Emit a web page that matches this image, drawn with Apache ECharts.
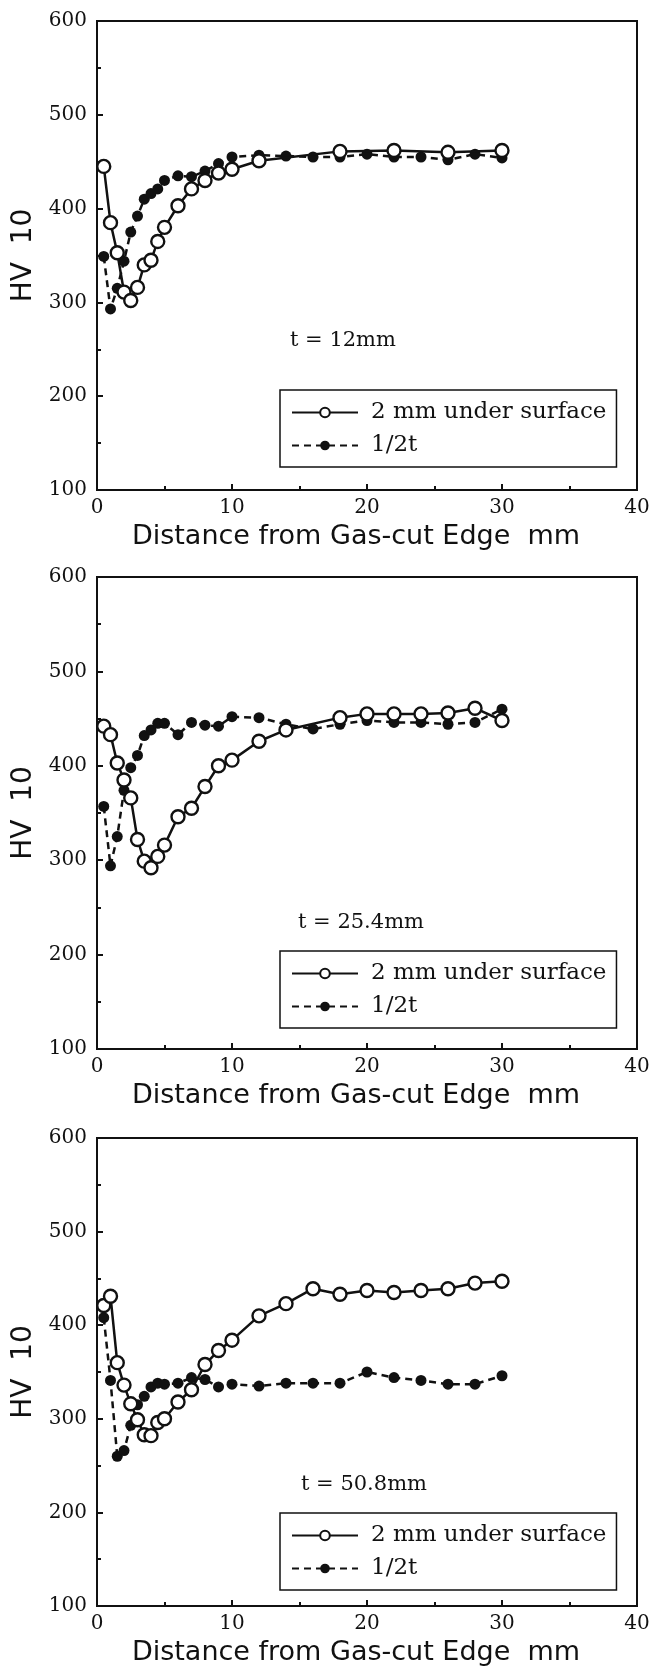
<!DOCTYPE html>
<html>
<head>
<meta charset="utf-8">
<script src="https://cdn.jsdelivr.net/npm/echarts@6/dist/echarts.min.js"></script>
<style>
  body { margin: 0; background: #fff; }
  #main { width: 657px; height: 1673px; }
</style>
</head>
<body>
<div id="main"></div>
<script>
// HV10 hardness vs distance from gas-cut edge, three plate thicknesses
var panelTitles = ['t = 12mm', 't = 25.4mm', 't = 50.8mm'];
var seriesNames = ['2 mm under surface', '1/2t'];
var xTicks = [0, 10, 20, 30, 40];
var yTicks = [100, 200, 300, 400, 500, 600];

// t = 12 mm
var xOpen1 = [0.5, 1, 1.5, 2, 2.5, 3, 3.5, 4, 4.5, 5, 6, 7, 8, 9, 10, 12, 18, 22, 26, 30];
var open1  = [445, 385, 353, 311, 302, 316, 340, 345, 365, 380, 403, 421, 430, 438, 442, 451, 461, 462, 460, 462];
var xFill1 = [0.5, 1, 1.5, 2, 2.5, 3, 3.5, 4, 4.5, 5, 6, 7, 8, 9, 10, 12, 14, 16, 18, 20, 22, 24, 26, 28, 30];
var fill1  = [349, 293, 315, 344, 375, 392, 410, 416, 421, 430, 435, 434, 440, 448, 455, 457, 456, 455, 455, 458, 455, 455, 452, 458, 454];

// t = 25.4 mm
var xOpen2 = [0.5, 1, 1.5, 2, 2.5, 3, 3.5, 4, 4.5, 5, 6, 7, 8, 9, 10, 12, 14, 18, 20, 22, 24, 26, 28, 30];
var open2  = [442, 433, 403, 385, 366, 322, 299, 292, 304, 316, 346, 355, 378, 400, 406, 426, 438, 451, 455, 455, 455, 456, 461, 448];
var xFill2 = [0.5, 1, 1.5, 2, 2.5, 3, 3.5, 4, 4.5, 5, 6, 7, 8, 9, 10, 12, 14, 16, 18, 20, 22, 24, 26, 28, 30];
var fill2  = [357, 294, 325, 374, 398, 411, 432, 438, 445, 445, 433, 446, 443, 442, 452, 451, 444, 439, 444, 448, 446, 446, 444, 446, 460];

// t = 50.8 mm
var xOpen3 = [0.5, 1, 1.5, 2, 2.5, 3, 3.5, 4, 4.5, 5, 6, 7, 8, 9, 10, 12, 14, 16, 18, 20, 22, 24, 26, 28, 30];
var open3  = [421, 431, 360, 336, 316, 299, 283, 282, 296, 300, 318, 331, 358, 373, 384, 410, 423, 439, 433, 437, 435, 437, 439, 445, 447];
var xFill3 = [0.5, 1, 1.5, 2, 2.5, 3, 3.5, 4, 4.5, 5, 6, 7, 8, 9, 10, 12, 14, 16, 18, 20, 22, 24, 26, 28, 30];
var fill3  = [408, 341, 260, 266, 293, 315, 324, 334, 338, 337, 338, 344, 342, 334, 337, 335, 338, 338, 338, 350, 344, 341, 337, 337, 346];

var panels = [
  { xo: xOpen1, yo: open1, xf: xFill1, yf: fill1 },
  { xo: xOpen2, yo: open2, xf: xFill2, yf: fill2 },
  { xo: xOpen3, yo: open3, xf: xFill3, yf: fill3 }
];

function pairs(xs, ys) {
  return xs.map(function (x, i) { return [x, ys[i]]; });
}

var gridTop = [21, 577, 1138];
var gridHeight = [469, 472, 468];
var legendTop = [390, 951, 1513];
var titlePos = [[290, 330], [298, 912], [301, 1474]];

var serif = 'DejaVu Serif';
var sans = 'DejaVu Sans';
var ink = '#111';

var myChart = echarts.init(document.getElementById('main'));

var grids = [], xAxes = [], yAxes = [], series = [], legends = [], titles = [];

panels.forEach(function (p, i) {
  grids.push({
    left: 97, right: 20, top: gridTop[i], height: gridHeight[i],
    show: true, borderColor: ink, borderWidth: 2, backgroundColor: 'transparent'
  });
  xAxes.push({
    gridIndex: i, type: 'value',
    min: xTicks[0], max: xTicks[xTicks.length - 1], interval: xTicks[1] - xTicks[0],
    name: 'Distance from Gas-cut Edge  mm',
    nameLocation: 'middle', nameGap: 33,
    nameTextStyle: { fontFamily: sans, fontSize: 27, color: ink, padding: [0, 22, 0, 0] },
    axisLine: { onZero: false, lineStyle: { color: ink, width: 2 } },
    axisTick: { inside: true, length: 6, lineStyle: { color: ink, width: 2 } },
    minorTick: { show: true, splitNumber: 2, length: 4, lineStyle: { color: ink, width: 2 } },
    splitLine: { show: false },
    axisLabel: { fontFamily: serif, fontSize: 20, color: ink, margin: 8 }
  });
  yAxes.push({
    gridIndex: i, type: 'value',
    min: yTicks[0], max: yTicks[yTicks.length - 1], interval: yTicks[1] - yTicks[0],
    name: 'HV  10',
    nameLocation: 'middle', nameGap: 58, nameRotate: 90,
    nameTextStyle: { fontFamily: sans, fontSize: 28, color: ink },
    axisLine: { onZero: false, lineStyle: { color: ink, width: 2 } },
    axisTick: { inside: true, length: 6, lineStyle: { color: ink, width: 2 } },
    minorTick: { show: true, splitNumber: 2, length: 4, lineStyle: { color: ink, width: 2 } },
    splitLine: { show: false },
    axisLabel: { fontFamily: serif, fontSize: 20, color: ink, margin: 10 }
  });
  series.push({
    name: seriesNames[1], type: 'line',
    xAxisIndex: i, yAxisIndex: i,
    symbol: 'circle', symbolSize: 11,
    itemStyle: { color: ink },
    lineStyle: { color: ink, width: 2.5, type: [7, 5] },
    z: 2,
    data: pairs(p.xf, p.yf)
  });
  series.push({
    name: seriesNames[0], type: 'line',
    xAxisIndex: i, yAxisIndex: i,
    symbol: 'circle', symbolSize: 13,
    itemStyle: { color: '#fff', borderColor: ink, borderWidth: 2.4 },
    lineStyle: { color: ink, width: 2.5 },
    z: 3,
    data: pairs(p.xo, p.yo)
  });
  legends.push({
    data: seriesNames,
    orient: 'vertical',
    left: 280, top: legendTop[i],
    padding: [11, 10, 10, 11],
    itemGap: 10,
    itemWidth: 66, itemHeight: 12,
    borderColor: ink, borderWidth: 1.5,
    selectedMode: false,
    textStyle: { fontFamily: serif, fontSize: 23, color: ink, lineHeight: 22, padding: [0, 0, 0, 8] }
  });
  titles.push({
    text: panelTitles[i],
    left: titlePos[i][0], top: titlePos[i][1],
    padding: 0,
    textStyle: { fontFamily: serif, fontSize: 21, fontWeight: 'normal', color: ink }
  });
});

var option = {
  animation: false,
  backgroundColor: '#fff',
  title: titles,
  legend: legends,
  grid: grids,
  xAxis: xAxes,
  yAxis: yAxes,
  series: series
};

myChart.setOption(option);
</script>
</body>
</html>
